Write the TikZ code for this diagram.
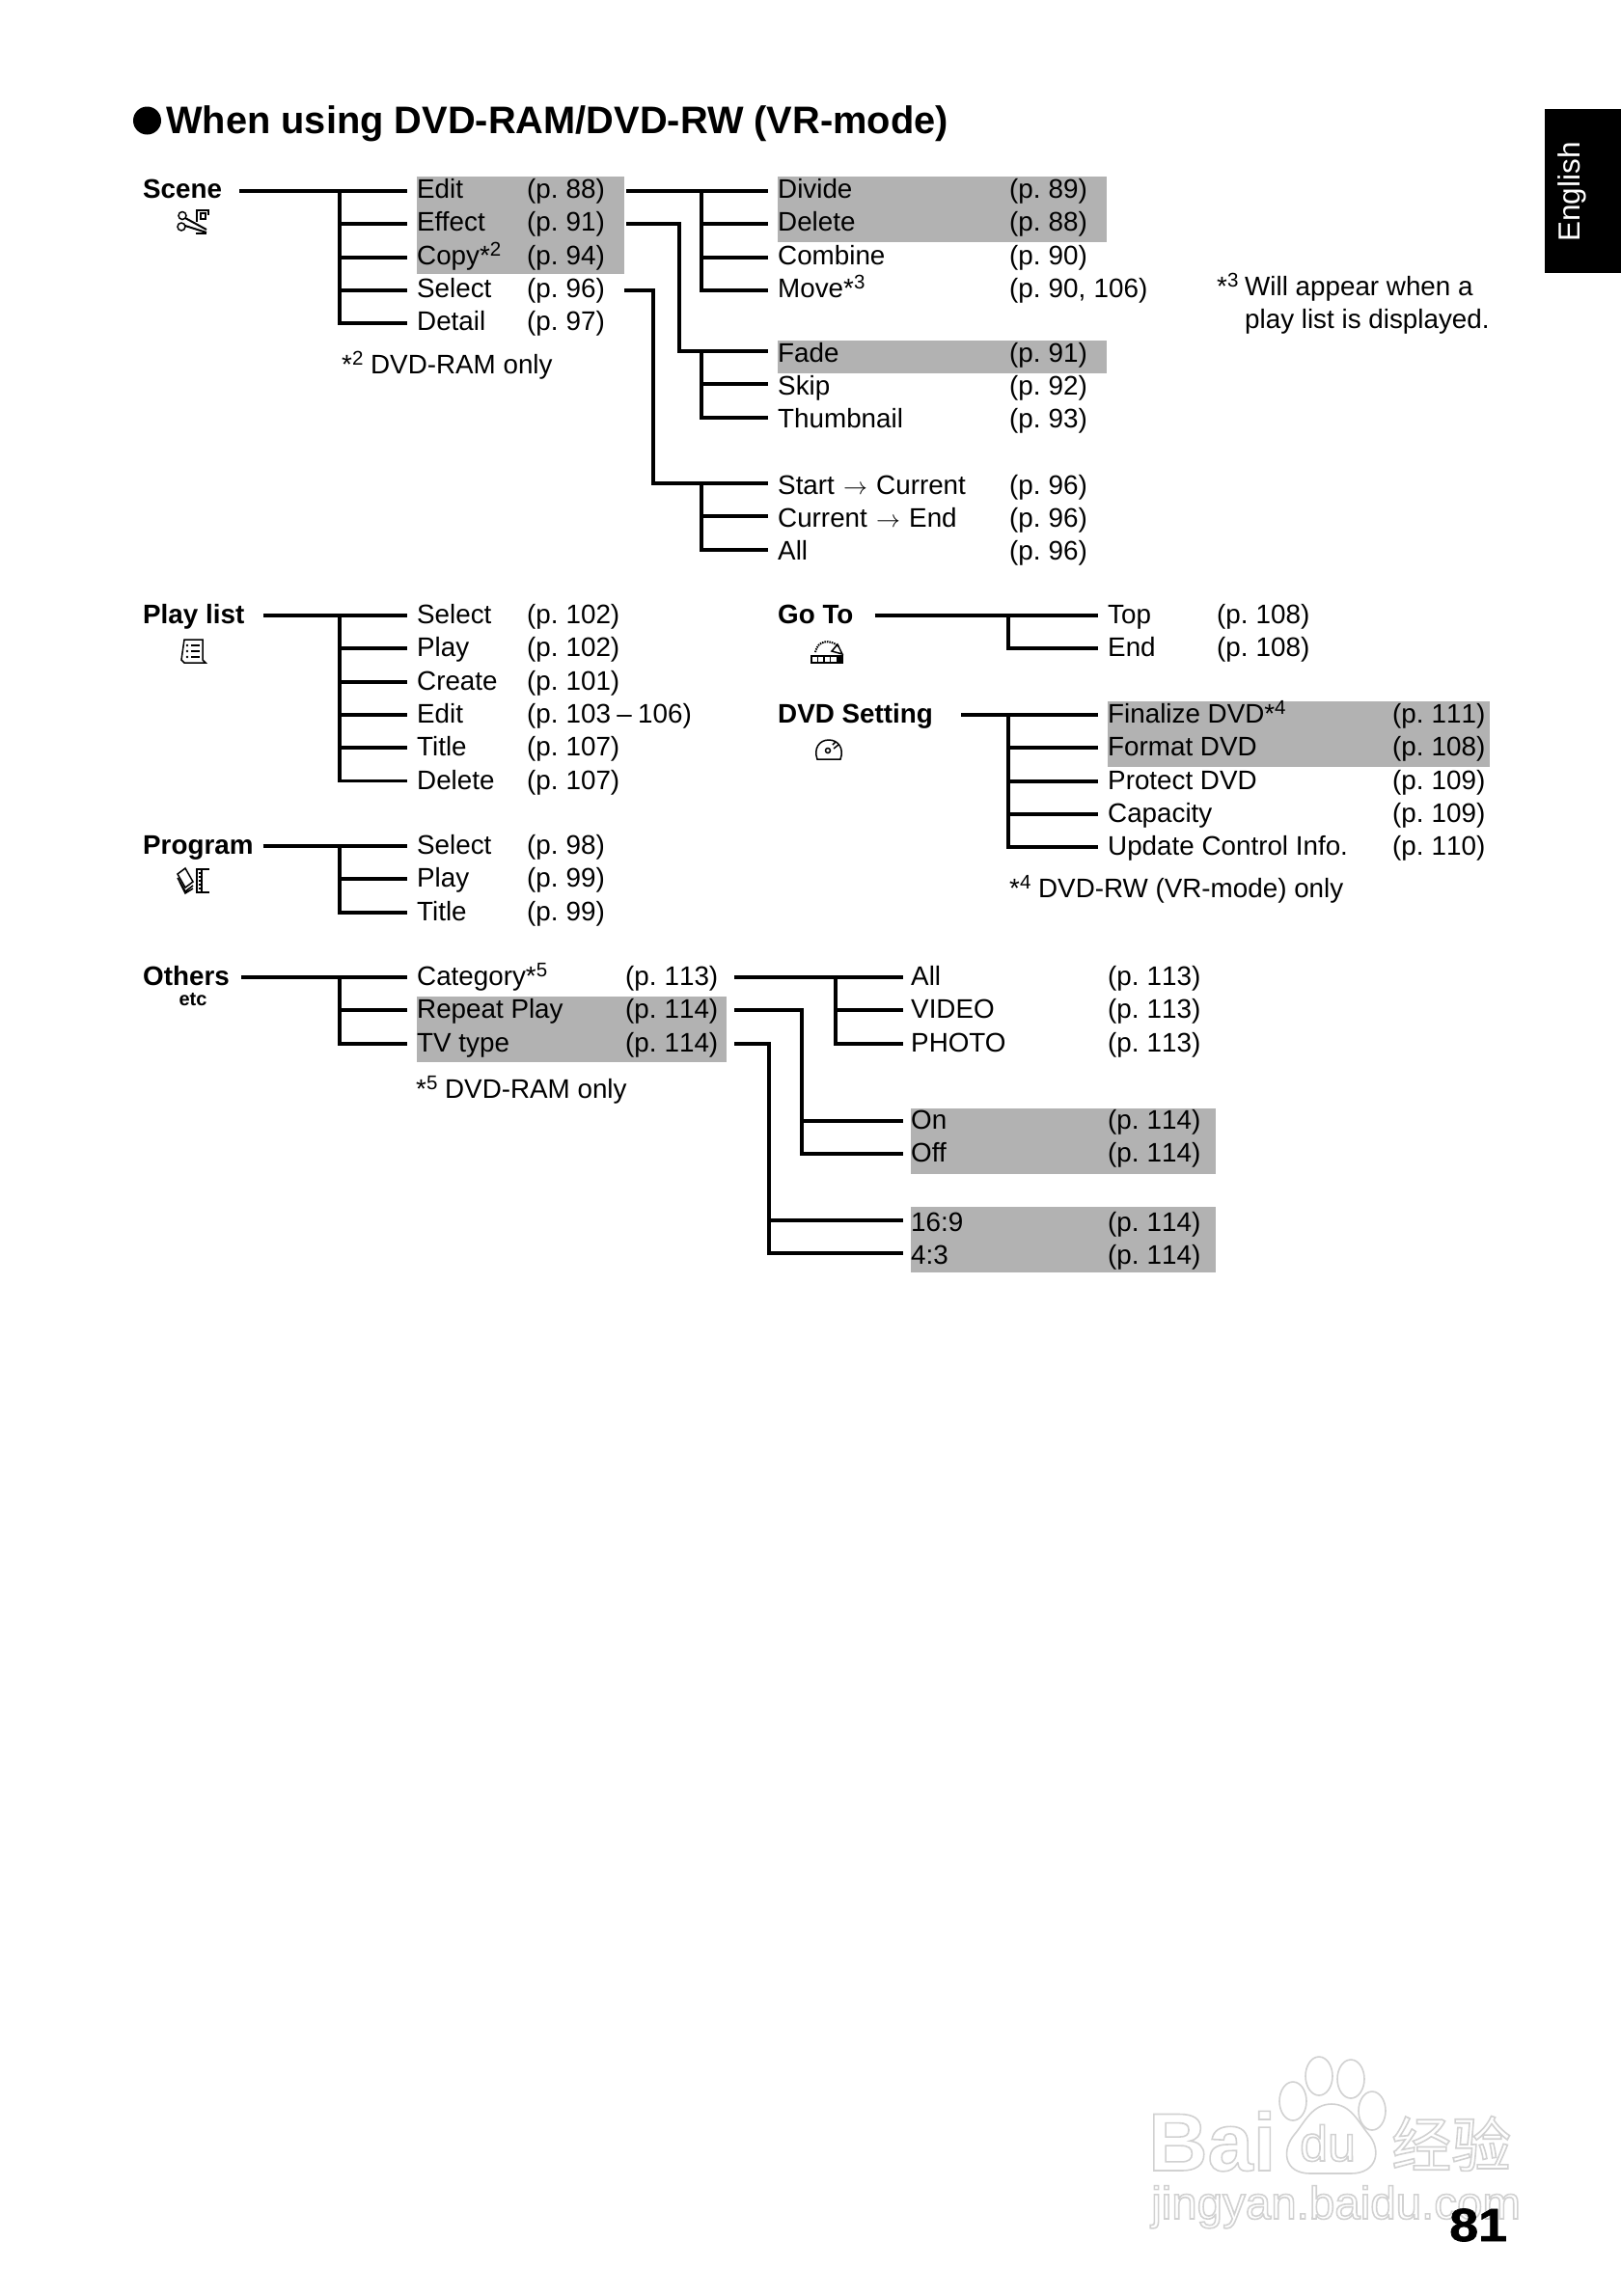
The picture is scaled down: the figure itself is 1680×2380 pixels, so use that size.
\documentclass[tikz,border=0pt]{standalone}
\usepackage{fontspec}
\setmainfont{Liberation Sans}
\newfontfamily\cjkfont{Noto Sans CJK SC}
\newfontfamily\pagefont[WordSpace=0.7,Kerning=Off]{Liberation Sans}
\newfontfamily\heavyfont[FakeStretch=1.12,FakeBold=1.5]{Liberation Sans Bold}
\usetikzlibrary{positioning}

\definecolor{menugrey}{gray}{0.70}
\definecolor{markgrey}{gray}{0.82}
\newcommand{\noteup}[1]{\raisebox{9pt}{\fontsize{20.5}{22}\selectfont #1}}
\newcommand{\outlined}[1]{\special{pdf:code q 0.82 G 1 Tr 1.6 w}#1\special{pdf:code Q}}

\begin{document}
\begin{tikzpicture}[x=1pt, y=-1pt, node distance=0pt,
 font=\fontsize{27.8}{33}\selectfont,
 item/.style={anchor=west, inner sep=0pt, minimum height=33.9pt, text height=22pt, text depth=5pt},
 high/.style={text height=21pt, text depth=6pt},
 low/.style={text height=24.5pt, text depth=2.5pt},
 pagenum/.style={item, font=\fontsize{27.8}{33}\selectfont\pagefont},
 under/.style={below=of #1.south west, anchor=north west},
 head/.style={item, font=\fontsize{27.8}{33}\selectfont\bfseries},
 note/.style={anchor=base west, inner sep=0pt},
 greybar/.style={fill=menugrey},
 line/.style={line width=3.8pt, line join=miter},
 icon/.style={line width=1.5pt},
 wmark/.style={draw=markgrey, fill=white, line width=1.6pt}]
\useasboundingbox (0,0) rectangle (1680,2380);
% grey rows
\fill[greybar] (432,183) rectangle (647,284);
\fill[greybar] (806,183) rectangle (1147,251);
\fill[greybar] (806,353) rectangle (1147,387);
\fill[greybar] (1148,727) rectangle (1544,795);
\fill[greybar] (432,1033) rectangle (753,1101);
\fill[greybar] (944,1149) rectangle (1260,1217);
\fill[greybar] (944,1251) rectangle (1260,1319);
% side tab and watermark
\node[fill=black, minimum width=79pt, minimum height=170pt, inner sep=0pt] (tab) at (1640.5,198) {};
\node[white, rotate=90, font=\fontsize{31.5}{33}\selectfont, inner sep=0pt] (lang) at (1629,199) {English};
\draw[wmark] (1340,2178) ellipse (14 and 20); \draw[wmark] (1367,2152) ellipse (14 and 20);
\draw[wmark] (1400,2155) ellipse (14 and 20); \draw[wmark] (1422,2188) ellipse (14 and 20);
\draw[wmark] (1380,2181) .. controls (1400,2181) and (1408,2200) .. (1418,2212)
 .. controls (1432,2228) and (1428,2253) .. (1400,2253) .. controls (1390,2253) and (1372,2253) .. (1358,2253)
 .. controls (1330,2253) and (1328,2228) .. (1342,2212) .. controls (1352,2200) and (1360,2181) .. (1380,2181) -- cycle;
\node[note, font=\fontsize{85}{90}\selectfont\bfseries] (markbai) at (1190,2250) {\outlined{Bai}};
\node[note, font=\fontsize{52}{54}\selectfont] (markdu) at (1347,2240) {\outlined{du}};
\node[note, font=\fontsize{62}{66}\cjkfont] (markcn) at (1442,2246) {\outlined{经验}};
\node[note, font=\fontsize{47.5}{50}\selectfont] (markurl) at (1193,2300) {\outlined{jingyan.baidu.com}};
\node[note, font=\fontsize{48}{50}\heavyfont] (pageno) at (1502,2323) {81};
% title
\node[circle, fill=black, inner sep=0pt, minimum size=29pt] (bullet) at (152.5,125) {};
\node[note, font=\fontsize{39.8}{44}\selectfont\bfseries] (title) at (172,138) {When using DVD-RAM/DVD-RW (VR-mode)};
% scene
\node[head, high] (scene) at (148,198) {Scene};
\node[item, high] (edit) at (432,198) {Edit};
\node[item, high, under=edit] (effect) {Effect};
\node[item, high, under=effect] (copy) {Copy*\noteup{2}};
\node[item, high, under=copy] (select) {Select};
\node[item, high, under=select] (detail) {Detail};
\node[pagenum, high] (editp) at (546,198) {(p. 88)};
\node[pagenum, high, under=editp] (effectp) {(p. 91)};
\node[pagenum, high, under=effectp] (copyp) {(p. 94)};
\node[pagenum, high, under=copyp] (selectp) {(p. 96)};
\node[pagenum, high, under=selectp] (detailp) {(p. 97)};
\node[note] (noteb) at (354,387) {*\noteup{2} DVD-RAM only};
% edit, effect, select menus
\node[item, high] (divide) at (806,198) {Divide};
\node[item, high, under=divide] (delete) {Delete};
\node[item, high, under=delete] (combine) {Combine};
\node[item, high, under=combine] (move) {Move*\noteup{3}};
\node[pagenum, high] (dividep) at (1046,198) {(p. 89)};
\node[pagenum, high, under=dividep] (deletep) {(p. 88)};
\node[pagenum, high, under=deletep] (combinep) {(p. 90)};
\node[pagenum, high, under=combinep] (movep) {(p. 90,\kern3pt{} 106)};
\node[note] (notec) at (1261,306) {*\noteup{3}};
\node[note] (notecc) at (1290,306) {Will appear when a};
\node[note] (noted) at (1290,340) {play list is displayed.};
\node[item, low] (fade) at (806,364) {Fade};
\node[item, low, under=fade] (skip) {Skip};
\node[item, low, under=skip] (thumb) {Thumbnail};
\node[pagenum, low] (fadep) at (1046,364) {(p. 91)};
\node[pagenum, low, under=fadep] (skipp) {(p. 92)};
\node[pagenum, low, under=skipp] (thumbp) {(p. 93)};
\node[item, low] (start) at (806,501) {Start\kern1.5pt{} $\rightarrow$\kern1.5pt{} Current};
\node[item, low, under=start] (current) {Current\kern1.5pt{} $\rightarrow$\kern1.5pt{} End};
\node[item, low, under=current] (allscene) {All};
\node[pagenum, low] (startp) at (1046,501) {(p. 96)};
\node[pagenum, low, under=startp] (currentp) {(p. 96)};
\node[pagenum, low, under=currentp] (allscenep) {(p. 96)};
% play list
\node[head] (playlist) at (148,638) {Play list};
\node[item] (plselect) at (432,638) {Select};
\node[item, under=plselect] (plplay) {Play};
\node[item, under=plplay] (plcreate) {Create};
\node[item, under=plcreate] (pledit) {Edit};
\node[item, under=pledit] (pltitle) {Title};
\node[item, under=pltitle] (pldelete) {Delete};
\node[pagenum] (plselectp) at (546,638) {(p. 102)};
\node[pagenum, under=plselectp] (plplayp) {(p. 102)};
\node[pagenum, under=plplayp] (plcreatep) {(p. 101)};
\node[pagenum, under=plcreatep] (pleditp) {(p. 103\kern1pt{} –\kern1pt{} 106)};
\node[pagenum, under=pleditp] (pltitlep) {(p. 107)};
\node[pagenum, under=pltitlep] (pldeletep) {(p. 107)};
% program
\node[head] (program) at (148,877) {Program};
\node[item] (prselect) at (432,877) {Select};
\node[item, under=prselect] (prplay) {Play};
\node[item, under=prplay] (prtitle) {Title};
\node[pagenum] (prselectp) at (546,877) {(p. 98)};
\node[pagenum, under=prselectp] (prplayp) {(p. 99)};
\node[pagenum, under=prplayp] (prtitlep) {(p. 99)};
% others
\node[head] (others) at (148,1013) {Others};
\node[anchor=center, inner sep=0pt, font=\fontsize{20}{22}\selectfont\bfseries] (etc) at (200,1036) {etc};
\node[item] (category) at (432,1013) {Category*\noteup{5}};
\node[item, under=category] (repeatplay) {Repeat Play};
\node[item, under=repeatplay] (tvtype) {TV type};
\node[pagenum] (categoryp) at (648,1013) {(p. 113)};
\node[pagenum, under=categoryp] (repeatplayp) {(p. 114)};
\node[pagenum, under=repeatplayp] (tvtypep) {(p. 114)};
\node[note] (notee) at (431,1138) {*\noteup{5} DVD-RAM only};
\node[item] (catall) at (944,1013) {All};
\node[item, under=catall] (video) {VIDEO};
\node[item, under=video] (photo) {PHOTO};
\node[pagenum] (catallp) at (1148,1013) {(p. 113)};
\node[pagenum, under=catallp] (videop) {(p. 113)};
\node[pagenum, under=videop] (photop) {(p. 113)};
\node[item] (on) at (944,1162) {On};
\node[item, under=on] (off) {Off};
\node[pagenum] (onp) at (1148,1162) {(p. 114)};
\node[pagenum, under=onp] (offp) {(p. 114)};
\node[item, low] (wide) at (944,1265) {16:9};
\node[item, low, under=wide] (normal) {4:3};
\node[pagenum, low] (widep) at (1148,1265) {(p. 114)};
\node[pagenum, low, under=widep] (normalp) {(p. 114)};
% go to
\node[head] (goto) at (806,638) {Go To};
\node[item] (top) at (1148,638) {Top};
\node[item, under=top] (end) {End};
\node[pagenum] (topp) at (1261,638) {(p. 108)};
\node[pagenum, under=topp] (endp) {(p. 108)};
% dvd setting
\node[head] (dvd) at (806,741) {DVD Setting};
\node[item] (finalize) at (1148,741) {Finalize DVD*\noteup{4}};
\node[item, under=finalize] (format) {Format DVD};
\node[item, under=format] (protect) {Protect DVD};
\node[item, under=protect] (capacity) {Capacity};
\node[item, under=capacity] (update) {Update Control Info.};
\node[pagenum] (finalizep) at (1443,741) {(p. 111)};
\node[pagenum, under=finalizep] (formatp) {(p. 108)};
\node[pagenum, under=formatp] (protectp) {(p. 109)};
\node[pagenum, under=protectp] (capacityp) {(p. 109)};
\node[pagenum, under=capacityp] (updatep) {(p. 110)};
\node[note] (notef) at (1046,930) {*\noteup{4} DVD-RW (VR-mode) only};
% trunks
\coordinate (scenev) at (352,198); \coordinate (editv) at (727,198); \coordinate (effectv) at (704,198);
\coordinate (selectv) at (677,198); \coordinate (fadev) at (727,364); \coordinate (startv) at (727,501);
\coordinate (playlistv) at (352,638); \coordinate (programv) at (352,877); \coordinate (othersv) at (352,1013);
\coordinate (gotov) at (1045,638); \coordinate (dvdv) at (1045,741); \coordinate (categoryv) at (866,1013);
\coordinate (onv) at (831,1162); \coordinate (widev) at (797,1265);
% connectors
\draw[line] ([xshift=18pt]scene.east)--([xshift=-10pt]edit.west);
\draw[line] (scenev) |- ([xshift=-10pt]effect.west); \draw[line] (scenev) |- ([xshift=-10pt]copy.west);
\draw[line] (scenev) |- ([xshift=-10pt]select.west); \draw[line] (scenev) |- ([xshift=-10pt]detail.west);
\draw[line] ([xshift=22pt]editp.east)--([xshift=-10pt]divide.west);
\draw[line] (editv) |- ([xshift=-10pt]delete.west); \draw[line] (editv) |- ([xshift=-10pt]combine.west);
\draw[line] (editv) |- ([xshift=-10pt]move.west);
\draw[line] ([xshift=22pt]effectp.east) -| (fadev -| effectv) |- ([xshift=-10pt]fade.west);
\draw[line] (fadev) |- ([xshift=-10pt]skip.west); \draw[line] (fadev) |- ([xshift=-10pt]thumb.west);
\draw[line] ([xshift=20pt]selectp.east) -| (startv -| selectv) |- ([xshift=-10pt]start.west);
\draw[line] (startv) |- ([xshift=-10pt]current.west); \draw[line] (startv) |- ([xshift=-10pt]allscene.west);
\draw[line] ([xshift=20pt]playlist.east)--([xshift=-10pt]plselect.west);
\draw[line] (playlistv) |- ([xshift=-10pt]plplay.west); \draw[line] (playlistv) |- ([xshift=-10pt]plcreate.west);
\draw[line] (playlistv) |- ([xshift=-10pt]pledit.west); \draw[line] (playlistv) |- ([xshift=-10pt]pltitle.west);
\draw[line] (playlistv) |- ([xshift=-10pt]pldelete.west);
\draw[line] ([xshift=10pt]program.east)--([xshift=-10pt]prselect.west);
\draw[line] (programv) |- ([xshift=-10pt]prplay.west); \draw[line] (programv) |- ([xshift=-10pt]prtitle.west);
\draw[line] ([xshift=12pt]others.east)--([xshift=-10pt]category.west);
\draw[line] (othersv) |- ([xshift=-10pt]repeatplay.west); \draw[line] (othersv) |- ([xshift=-10pt]tvtype.west);
\draw[line] ([xshift=17pt]categoryp.east)--([xshift=-8pt]catall.west);
\draw[line] (categoryv) |- ([xshift=-8pt]video.west); \draw[line] (categoryv) |- ([xshift=-8pt]photo.west);
\draw[line] ([xshift=17pt]repeatplayp.east) -| (onv) |- ([xshift=-8pt]on.west);
\draw[line] (onv) |- ([xshift=-8pt]off.west);
\draw[line] ([xshift=17pt]tvtypep.east) -| (widev) |- ([xshift=-8pt]wide.west);
\draw[line] (widev) |- ([xshift=-8pt]normal.west);
\draw[line] ([xshift=22pt]goto.east)--([xshift=-10pt]top.west); \draw[line] (gotov) |- ([xshift=-10pt]end.west);
\draw[line] ([xshift=29pt]dvd.east)--([xshift=-10pt]finalize.west);
\draw[line] (dvdv) |- ([xshift=-10pt]format.west); \draw[line] (dvdv) |- ([xshift=-10pt]protect.west);
\draw[line] (dvdv) |- ([xshift=-10pt]capacity.west); \draw[line] (dvdv) |- ([xshift=-10pt]update.west);
% icons
\draw[icon] (189,223.5) circle (4) (188,235) circle (4);
\draw[icon, line width=2pt] (192,226)--(214,238) (192,234)--(214,241);
\draw[icon] (204,230)--(204,218)--(216,218)--(216,223) (208,221) rectangle (213,227) (203,242)--(214,242);
\draw[icon] (191,663)--(210,663)--(210,684)--(213,687)--(191,687)--(188,684)--cycle;
\fill (194,669) circle (1.3) (194,675) circle (1.3) (194,681) circle (1.3);
\draw[icon, line width=2pt] (198,669)--(207,669) (198,675)--(207,675) (198,681)--(207,681);
\draw[icon] (184,906)--(192,900)--(200,914)--(192,920)--cycle (184,910)--(192,924)--(200,918) (186,914)--(192,926)--(200,921);
\draw[icon] (217,901)--(204,901)--(204,925)--(217,925) (209,901)--(209,925);
\draw[icon] (205.5,905)--(208,905) (205.5,909)--(208,909) (205.5,913)--(208,913) (205.5,917)--(208,917) (205.5,921)--(208,921);
\draw[icon, densely dotted, line width=2pt] (845,676) .. controls (847,664) and (860,662) .. (869,670);
\draw[icon] (868,668)--(862,675)--(873,678)--cycle;
\draw[icon] (841,680) rectangle (873,687) (847.5,680)--(847.5,687) (854,680)--(854,687) (860.5,680)--(860.5,687);
\fill (867,680) rectangle (873,687);
\draw[icon] (847,787)--(871,787) .. controls (875,776) and (869,767) .. (859,767) .. controls (849,767) and (843,776) .. (847,787) -- cycle;
\draw[icon] (858,778) circle (2.5) (864,776)--(869,772) (863,772)--(866,769);
\end{tikzpicture}
\end{document}
